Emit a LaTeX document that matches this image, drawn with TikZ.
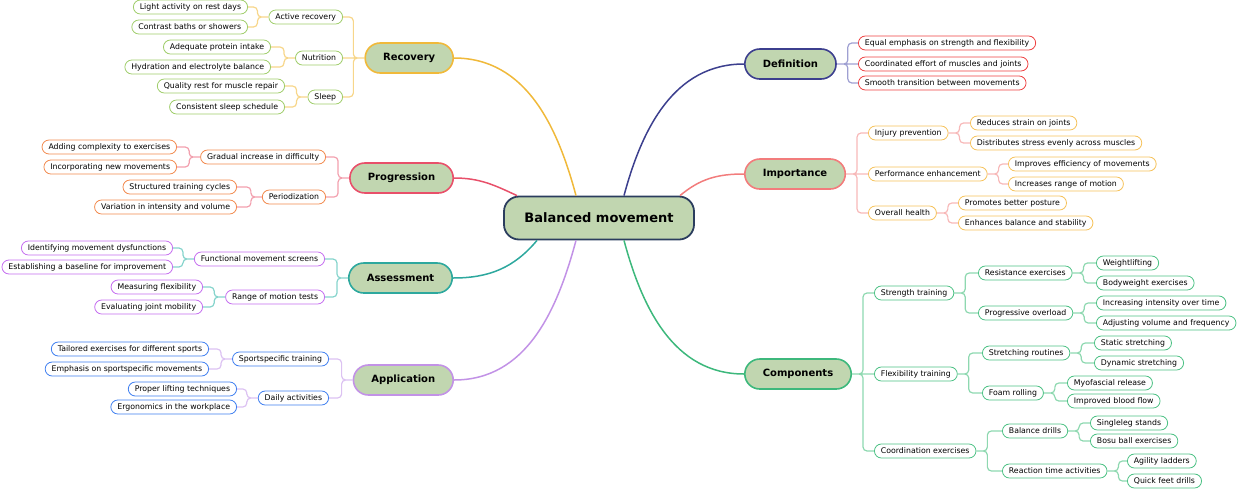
\documentclass[tikz,border=0pt]{standalone}
\usepackage{fontspec}
\setmainfont{DejaVu Sans}

\definecolor{mainfill}{HTML}{C1D6B0}
\definecolor{rootline}{HTML}{2B3D5E}
\definecolor{recmain}{HTML}{F0B93A}
\definecolor{recline}{HTML}{F7D68A}
\definecolor{recsub}{HTML}{9FCD6A}
\definecolor{promain}{HTML}{E8506A}
\definecolor{proline}{HTML}{F2A0AE}
\definecolor{prosub}{HTML}{F28A4E}
\definecolor{asmmain}{HTML}{2DA89E}
\definecolor{asmline}{HTML}{86D4CC}
\definecolor{asmsub}{HTML}{C56EF0}
\definecolor{appmain}{HTML}{C292E6}
\definecolor{appline}{HTML}{DCC2F2}
\definecolor{appsub}{HTML}{3F7FF0}
\definecolor{defmain}{HTML}{3C3F8E}
\definecolor{defline}{HTML}{9FA0D2}
\definecolor{defsub}{HTML}{EE4040}
\definecolor{impmain}{HTML}{F27C7C}
\definecolor{impline}{HTML}{F7B8B8}
\definecolor{impsub}{HTML}{F6C25A}
\definecolor{commain}{HTML}{3DB87C}
\definecolor{comline}{HTML}{8ED8B0}
\definecolor{comsub}{HTML}{4CC184}

\tikzset{
  rootbox/.style={draw=rootline, line width=1.8pt, fill=mainfill, rounded corners=15pt,
    minimum width=190pt, minimum height=43pt, font=\bfseries\fontsize{13}{15}\selectfont},
  topicbox/.style={draw=#1, line width=1.6pt, fill=mainfill, rounded corners=15pt,
    minimum height=30pt, inner xsep=18pt, font=\bfseries\fontsize{10}{12}\selectfont},
  leafbox/.style={draw=#1, line width=0.8pt, fill=white, rounded corners=7pt,
    minimum height=14pt, inner xsep=6.5pt, inner ysep=0pt, font=\fontsize{7.8}{9}\selectfont},
  mainedge/.style={draw=#1, line width=1.5pt},
  subedge/.style={draw=#1, line width=1.2pt, rounded corners=4pt},
  toleft/.style={to path={-- ++(-11,0) |- (\tikztotarget)}},
  toright/.style={to path={-- ++(11,0) |- (\tikztotarget)}},
}

\begin{document}
\begin{tikzpicture}[x=1pt, y=1pt]
  \useasboundingbox (0,0) rectangle (1240,-488);

  \node[rootbox] (bm) at (599,-218) {Balanced movement};

  \node[topicbox=recmain, anchor=east] (rec) at (454,-58) {Recovery};
  \node[topicbox=promain, anchor=east] (pro) at (454,-178) {Progression};
  \node[topicbox=asmmain, anchor=east] (asm) at (453,-278) {Assessment};
  \node[topicbox=appmain, anchor=east] (app) at (454,-380) {Application};
  \node[topicbox=defmain, anchor=west] (def) at (744,-64) {Definition};
  \node[topicbox=impmain, anchor=west] (imp) at (744,-174) {Importance};
  \node[topicbox=commain, anchor=west] (com) at (744,-374) {Components};

  \draw[mainedge=recmain] ([xshift=-23pt]bm.north) to[out=105, in=0] (rec.east);
  \draw[mainedge=promain] ([xshift=-82pt]bm.north) to[out=155, in=0] (pro.east);
  \draw[mainedge=asmmain] ([xshift=-62pt]bm.south) to[out=230, in=0] (asm.east);
  \draw[mainedge=appmain] ([xshift=-23pt]bm.south) to[out=255, in=0] (app.east);
  \draw[mainedge=defmain] ([xshift=25pt]bm.north) to[out=75, in=180] (def.west);
  \draw[mainedge=impmain] ([xshift=81pt]bm.north) to[out=40, in=180] (imp.west);
  \draw[mainedge=commain] ([xshift=25pt]bm.south) to[out=285, in=180] (com.west);

  \node[leafbox=recsub, anchor=east] (ar) at (343,-17) {Active recovery};
  \node[leafbox=recsub, anchor=east] (nu) at (343,-58) {Nutrition};
  \node[leafbox=recsub, anchor=east] (sl) at (343,-97) {Sleep};
  \node[leafbox=recsub, anchor=east] (ar1) at (248,-7) {Light activity on rest days};
  \node[leafbox=recsub, anchor=east] (ar2) at (248,-27) {Contrast baths or showers};
  \node[leafbox=recsub, anchor=east] (nu1) at (271,-47) {Adequate protein intake};
  \node[leafbox=recsub, anchor=east] (nu2) at (271,-67) {Hydration and electrolyte balance};
  \node[leafbox=recsub, anchor=east] (sl1) at (285,-86) {Quality rest for muscle repair};
  \node[leafbox=recsub, anchor=east] (sl2) at (285,-107) {Consistent sleep schedule};
  \draw[subedge=recline] (rec.west) to[toleft] (ar.east) (rec.west) -- (nu.east)
    (rec.west) to[toleft] (sl.east);
  \draw[subedge=recline] (ar.west) to[toleft] (ar1.east) (ar.west) to[toleft] (ar2.east)
    (nu.west) to[toleft] (nu1.east) (nu.west) to[toleft] (nu2.east)
    (sl.west) to[toleft] (sl1.east) (sl.west) to[toleft] (sl2.east);

  \node[leafbox=prosub, anchor=east] (gi) at (326,-157) {Gradual increase in difficulty};
  \node[leafbox=prosub, anchor=east] (pe) at (326,-197) {Periodization};
  \node[leafbox=prosub, anchor=east] (gi1) at (177,-147) {Adding complexity to exercises};
  \node[leafbox=prosub, anchor=east] (gi2) at (177,-167) {Incorporating new movements};
  \node[leafbox=prosub, anchor=east] (pe1) at (237,-187) {Structured training cycles};
  \node[leafbox=prosub, anchor=east] (pe2) at (237,-207) {Variation in intensity and volume};
  \draw[subedge=proline] (pro.west) to[toleft] (gi.east) (pro.west) to[toleft] (pe.east);
  \draw[subedge=proline] (gi.west) to[toleft] (gi1.east) (gi.west) to[toleft] (gi2.east)
    (pe.west) to[toleft] (pe1.east) (pe.west) to[toleft] (pe2.east);

  \node[leafbox=asmsub, anchor=east] (fm) at (325,-259) {Functional movement screens};
  \node[leafbox=asmsub, anchor=east] (rm) at (325,-297) {Range of motion tests};
  \node[leafbox=asmsub, anchor=east] (fm1) at (173,-248) {Identifying movement dysfunctions};
  \node[leafbox=asmsub, anchor=east] (fm2) at (173,-267) {Establishing a baseline for improvement};
  \node[leafbox=asmsub, anchor=east] (rm1) at (203,-287) {Measuring flexibility};
  \node[leafbox=asmsub, anchor=east] (rm2) at (203,-307) {Evaluating joint mobility};
  \draw[subedge=asmline] (asm.west) to[toleft] (fm.east) (asm.west) to[toleft] (rm.east);
  \draw[subedge=asmline] (fm.west) to[toleft] (fm1.east) (fm.west) to[toleft] (fm2.east)
    (rm.west) to[toleft] (rm1.east) (rm.west) to[toleft] (rm2.east);

  \node[leafbox=appsub, anchor=east] (ss) at (329,-359) {Sportspecific training};
  \node[leafbox=appsub, anchor=east] (da) at (329,-398) {Daily activities};
  \node[leafbox=appsub, anchor=east] (ss1) at (209,-349) {Tailored exercises for different sports};
  \node[leafbox=appsub, anchor=east] (ss2) at (209,-369) {Emphasis on sportspecific movements};
  \node[leafbox=appsub, anchor=east] (da1) at (237,-389) {Proper lifting techniques};
  \node[leafbox=appsub, anchor=east] (da2) at (237,-407) {Ergonomics in the workplace};
  \draw[subedge=appline] (app.west) to[toleft] (ss.east) (app.west) to[toleft] (da.east);
  \draw[subedge=appline] (ss.west) to[toleft] (ss1.east) (ss.west) to[toleft] (ss2.east)
    (da.west) to[toleft] (da1.east) (da.west) to[toleft] (da2.east);

  \node[leafbox=defsub, anchor=west] (de1) at (858,-43) {Equal emphasis on strength and flexibility};
  \node[leafbox=defsub, anchor=west] (de2) at (858,-64) {Coordinated effort of muscles and joints};
  \node[leafbox=defsub, anchor=west] (de3) at (858,-83) {Smooth transition between movements};
  \draw[subedge=defline] (def.east) to[toright] (de1.west) (def.east) -- (de2.west)
    (def.east) to[toright] (de3.west);

  \node[leafbox=impsub, anchor=west] (ip) at (868,-133) {Injury prevention};
  \node[leafbox=impsub, anchor=west] (pf) at (868,-174) {Performance enhancement};
  \node[leafbox=impsub, anchor=west] (oh) at (868,-213) {Overall health};
  \node[leafbox=impsub, anchor=west] (ip1) at (970,-123) {Reduces strain on joints};
  \node[leafbox=impsub, anchor=west] (ip2) at (970,-143) {Distributes stress evenly across muscles};
  \node[leafbox=impsub, anchor=west] (pf1) at (1008,-164) {Improves efficiency of movements};
  \node[leafbox=impsub, anchor=west] (pf2) at (1008,-184) {Increases range of motion};
  \node[leafbox=impsub, anchor=west] (oh1) at (958,-203) {Promotes better posture};
  \node[leafbox=impsub, anchor=west] (oh2) at (958,-223) {Enhances balance and stability};
  \draw[subedge=impline] (imp.east) to[toright] (ip.west) (imp.east) -- (pf.west)
    (imp.east) to[toright] (oh.west);
  \draw[subedge=impline] (ip.east) to[toright] (ip1.west) (ip.east) to[toright] (ip2.west)
    (pf.east) to[toright] (pf1.west) (pf.east) to[toright] (pf2.west)
    (oh.east) to[toright] (oh1.west) (oh.east) to[toright] (oh2.west);

  \node[leafbox=comsub, anchor=west] (st) at (874,-293) {Strength training};
  \node[leafbox=comsub, anchor=west] (fl) at (874,-374) {Flexibility training};
  \node[leafbox=comsub, anchor=west] (co) at (874,-451) {Coordination exercises};
  \node[leafbox=comsub, anchor=west] (re) at (978,-273) {Resistance exercises};
  \node[leafbox=comsub, anchor=west] (po) at (978,-313) {Progressive overload};
  \node[leafbox=comsub, anchor=west] (re1) at (1096,-263) {Weightlifting};
  \node[leafbox=comsub, anchor=west] (re2) at (1096,-283) {Bodyweight exercises};
  \node[leafbox=comsub, anchor=west] (po1) at (1096,-303) {Increasing intensity over time};
  \node[leafbox=comsub, anchor=west] (po2) at (1096,-323) {Adjusting volume and frequency};
  \node[leafbox=comsub, anchor=west] (sr) at (982,-353) {Stretching routines};
  \node[leafbox=comsub, anchor=west] (fr) at (982,-393) {Foam rolling};
  \node[leafbox=comsub, anchor=west] (sr1) at (1094,-343) {Static stretching};
  \node[leafbox=comsub, anchor=west] (sr2) at (1094,-363) {Dynamic stretching};
  \node[leafbox=comsub, anchor=west] (fr1) at (1067,-383) {Myofascial release};
  \node[leafbox=comsub, anchor=west] (fr2) at (1067,-401) {Improved blood flow};
  \node[leafbox=comsub, anchor=west] (bd) at (1002,-431) {Balance drills};
  \node[leafbox=comsub, anchor=west] (rt) at (1002,-471) {Reaction time activities};
  \node[leafbox=comsub, anchor=west] (bd1) at (1090,-423) {Singleleg stands};
  \node[leafbox=comsub, anchor=west] (bd2) at (1090,-441) {Bosu ball exercises};
  \node[leafbox=comsub, anchor=west] (rt1) at (1127,-461) {Agility ladders};
  \node[leafbox=comsub, anchor=west] (rt2) at (1127,-481) {Quick feet drills};
  \draw[subedge=comline] (com.east) to[toright] (st.west) (com.east) -- (fl.west)
    (com.east) to[toright] (co.west);
  \draw[subedge=comline] (st.east) to[toright] (re.west) (st.east) to[toright] (po.west)
    (fl.east) to[toright] (sr.west) (fl.east) to[toright] (fr.west)
    (co.east) to[toright] (bd.west) (co.east) to[toright] (rt.west);
  \draw[subedge=comline] (re.east) to[toright] (re1.west) (re.east) to[toright] (re2.west)
    (po.east) to[toright] (po1.west) (po.east) to[toright] (po2.west)
    (sr.east) to[toright] (sr1.west) (sr.east) to[toright] (sr2.west)
    (fr.east) to[toright] (fr1.west) (fr.east) to[toright] (fr2.west)
    (bd.east) to[toright] (bd1.west) (bd.east) to[toright] (bd2.west)
    (rt.east) to[toright] (rt1.west) (rt.east) to[toright] (rt2.west);
\end{tikzpicture}
\end{document}
